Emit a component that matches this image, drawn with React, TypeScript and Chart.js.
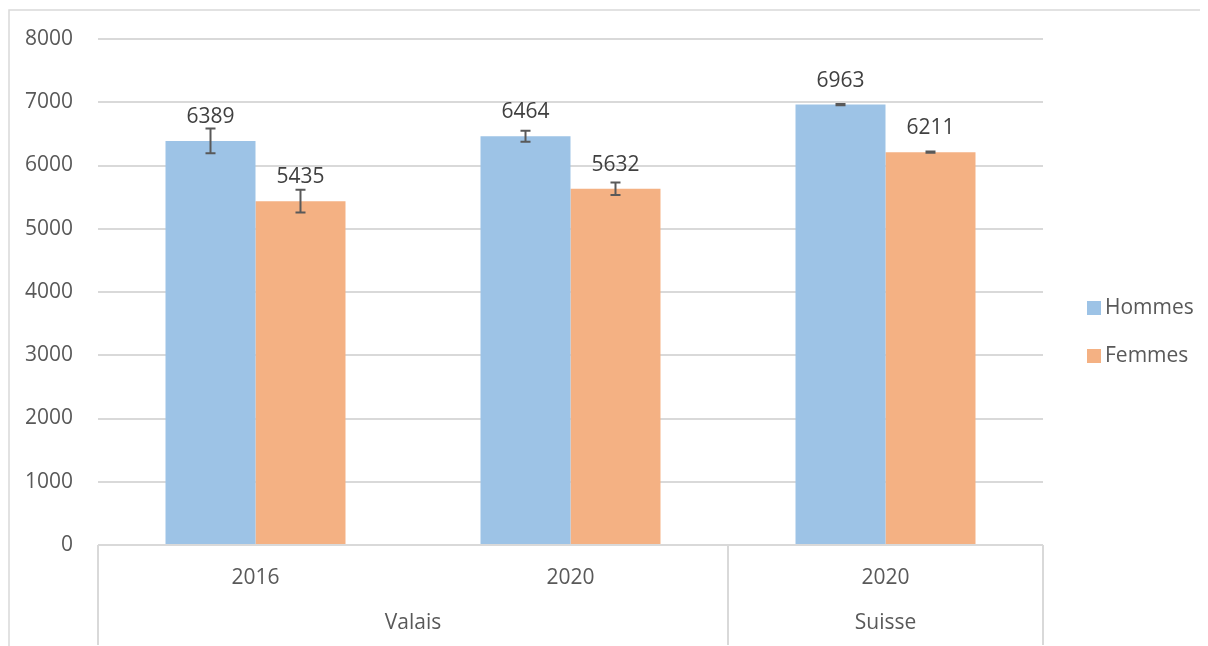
import React, { useEffect, useRef } from "react";
import { Chart, registerables } from "chart.js";

Chart.register(...registerables);

const categories = ["2016", "2020", "2020"];
const groups = [
  { label: "Valais", from: 0, to: 1 },
  { label: "Suisse", from: 2, to: 2 },
];
const seriesNames = ["Hommes", "Femmes"];
const hommes = [6389, 6464, 6963];
const femmes = [5435, 5632, 6211];
const hommesErr = [195, 87, 10];
const femmesErr = [180, 100, 10];
const colors = ["#9DC3E6", "#F4B183"];

const FONT = "'Open Sans', 'Noto Sans', sans-serif";
const FS = 21;
const TEXT = "#595959";
const GRID = "#D9D9D9";

const errPlugin = {
  id: "errbars",
  afterDatasetsDraw(chart: any) {
    const ctx = chart.ctx;
    const y = chart.scales.y;
    ctx.save();
    chart.data.datasets.forEach((ds: any, di: number) => {
      const meta = chart.getDatasetMeta(di);
      meta.data.forEach((bar: any, i: number) => {
        const v = ds.data[i];
        const e = ds.errors[i];
        const yt = y.getPixelForValue(v + e);
        const yb = y.getPixelForValue(v - e);
        ctx.strokeStyle = "#595959";
        ctx.lineWidth = 2;
        ctx.beginPath();
        ctx.moveTo(bar.x, yt);
        ctx.lineTo(bar.x, yb);
        ctx.stroke();
        ctx.beginPath();
        ctx.moveTo(bar.x - 5, yt);
        ctx.lineTo(bar.x + 5, yt);
        ctx.moveTo(bar.x - 5, yb);
        ctx.lineTo(bar.x + 5, yb);
        ctx.stroke();
        ctx.fillStyle = "#404040";
        ctx.font = `${FS}px ${FONT}`;
        ctx.textAlign = "center";
        ctx.textBaseline = "middle";
        ctx.fillText(String(v), bar.x, y.getPixelForValue(v) - 24);
      });
    });
    ctx.restore();
  },
};

const axisPlugin = {
  id: "multilevel",
  afterDraw(chart: any) {
    const ctx = chart.ctx;
    const x = chart.scales.x;
    const area = chart.chartArea;
    const n = categories.length;
    const step = (area.right - area.left) / n;
    const bottom = chart.height - 1;
    ctx.save();
    ctx.strokeStyle = GRID;
    ctx.lineWidth = 1.5;
    ctx.beginPath();
    ctx.moveTo(1, chart.height);
    ctx.lineTo(1, 2);
    ctx.lineTo(chart.width, 2);
    ctx.stroke();
    ctx.lineWidth = 2;
    const divs = [0];
    groups.forEach((g) => divs.push(g.to + 1));
    divs.forEach((d) => {
      const px = Math.round(area.left + d * step);
      ctx.beginPath();
      ctx.moveTo(px, area.bottom);
      ctx.lineTo(px, bottom);
      ctx.stroke();
    });
    ctx.fillStyle = TEXT;
    ctx.font = `${FS}px ${FONT}`;
    ctx.textAlign = "center";
    ctx.textBaseline = "middle";
    groups.forEach((g) => {
      const cx = (x.getPixelForValue(g.from) + x.getPixelForValue(g.to)) / 2;
      ctx.fillText(g.label, cx, area.bottom + 78);
    });
    ctx.textAlign = "left";
    chart.data.datasets.forEach((ds: any, i: number) => {
      const ly = 300 + i * 48;
      ctx.fillStyle = ds.backgroundColor;
      ctx.fillRect(1079, ly - 7, 14, 14);
      ctx.fillStyle = TEXT;
      ctx.fillText(ds.label, 1097, ly);
    });
    ctx.restore();
  },
};

function App() {
  const ref = useRef<HTMLCanvasElement>(null);
  useEffect(() => {
    document.body.style.overflow = "hidden";
    const chart = new Chart(ref.current!, {
      type: "bar",
      data: {
        labels: categories,
        datasets: [
          { label: seriesNames[0], data: hommes, backgroundColor: colors[0], errors: hommesErr } as any,
          { label: seriesNames[1], data: femmes, backgroundColor: colors[1], errors: femmesErr } as any,
        ],
      },
      options: {
        animation: false,
        responsive: false,
        layout: { padding: { top: 31, right: 165, left: 0, bottom: 0 } },
        plugins: { legend: { display: false }, tooltip: { enabled: false } },
        datasets: { bar: { categoryPercentage: 0.5714, barPercentage: 1 } },
        scales: {
          x: {
            grid: { display: false, drawTicks: false },
            border: { display: false },
            ticks: { color: TEXT, font: { family: FONT, size: FS }, padding: 20, maxRotation: 0 },
            afterFit: (s: any) => {
              s.height = 101;
              s.paddingLeft = 0;
              s.paddingRight = 0;
            },
          },
          y: {
            min: 0,
            max: 8000,
            grid: { color: GRID, lineWidth: 2, drawTicks: false },
            border: { display: false },
            ticks: {
              stepSize: 1000,
              color: TEXT,
              font: { family: FONT, size: FS },
              padding: 25,
              callback: (v: any) => String(v),
            },
            afterFit: (s: any) => {
              s.width = 90;
              s.paddingTop = 0;
              s.paddingBottom = 0;
            },
          },
        },
      } as any,
      plugins: [errPlugin, axisPlugin],
    });
    return () => chart.destroy();
  }, []);
  return (
    <div style={{ width: 1200, height: 638 }}>
      <canvas ref={ref} width={1200} height={638} style={{ display: "block" }} />
    </div>
  );
}

export default App;
